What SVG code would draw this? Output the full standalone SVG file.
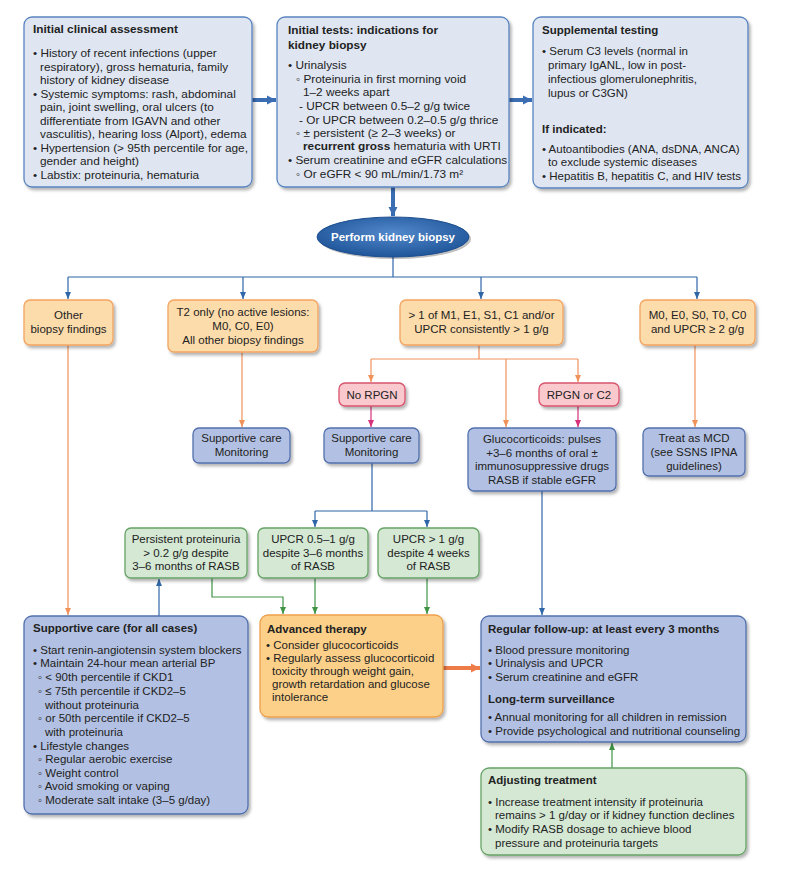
<svg xmlns="http://www.w3.org/2000/svg" width="787" height="876" viewBox="0 0 787 876">
<defs>
<style>
text{font-family:"Liberation Sans",Arial,sans-serif;font-size:11.5px;fill:#222}
.t text{font-size:11.8px}
.b{font-weight:bold}
.c{text-anchor:middle}
.w{fill:#fff;font-weight:bold;font-size:11.5px}
.top{fill:#dfe6f2;stroke:#5a84c0;stroke-width:1.3}
.blue{fill:#b2c1e3;stroke:#5270ad;stroke-width:1.3}
.org{fill:#fddcab;stroke:#f2a460;stroke-width:1.3}
.adv{fill:#fcd089;stroke:#eda04c;stroke-width:1.3}
.grn{fill:#d4e8d4;stroke:#66a366;stroke-width:1.3}
.pnk{fill:#f9c9cd;stroke:#d9546e;stroke-width:1.3}
.lb{fill:none;stroke:#2f66a8;stroke-width:1.2}
.lo{fill:none;stroke:#f0925a;stroke-width:1.2}
.lp{fill:none;stroke:#d6307a;stroke-width:1.2}
.lg{fill:none;stroke:#3f9345;stroke-width:1.2}
</style>
<filter id="sh" x="-10%" y="-10%" width="130%" height="130%">
<feDropShadow dx="2" dy="2.5" stdDeviation="1.6" flood-color="#000" flood-opacity="0.3"/>
</filter>
<radialGradient id="eg" cx="50%" cy="40%" r="60%">
<stop offset="0" stop-color="#5289cb"/>
<stop offset="1" stop-color="#1f5599"/>
</radialGradient>
<marker id="ab" markerWidth="8" markerHeight="8" refX="7" refY="4" orient="auto" markerUnits="userSpaceOnUse"><path d="M0,1 L7,4 L0,7 Z" fill="#2f66a8"/></marker>
<marker id="ao" markerWidth="8" markerHeight="8" refX="7" refY="4" orient="auto" markerUnits="userSpaceOnUse"><path d="M0,1 L7,4 L0,7 Z" fill="#f0925a"/></marker>
<marker id="ap" markerWidth="8" markerHeight="8" refX="7" refY="4" orient="auto" markerUnits="userSpaceOnUse"><path d="M0,1 L7,4 L0,7 Z" fill="#d6307a"/></marker>
<marker id="ag" markerWidth="8" markerHeight="8" refX="7" refY="4" orient="auto" markerUnits="userSpaceOnUse"><path d="M0,1 L7,4 L0,7 Z" fill="#3f9345"/></marker>
<marker id="abt" markerWidth="12" markerHeight="12" refX="9" refY="6" orient="auto" markerUnits="userSpaceOnUse"><path d="M0,1.5 L9,6 L0,10.5 Z" fill="#3a6db2"/></marker>
<marker id="aot" markerWidth="12" markerHeight="12" refX="9" refY="6" orient="auto" markerUnits="userSpaceOnUse"><path d="M0,1.5 L9,6 L0,10.5 Z" fill="#ee7c48"/></marker>
</defs>
<rect width="787" height="876" fill="#fff"/>

<g id="connectors">
<line x1="252" y1="100" x2="276" y2="100" stroke="#3a6db2" stroke-width="4" marker-end="url(#abt)"/>
<line x1="509" y1="100" x2="532" y2="100" stroke="#3a6db2" stroke-width="4" marker-end="url(#abt)"/>
<line x1="393" y1="187" x2="393" y2="216" stroke="#3a6db2" stroke-width="4" marker-end="url(#abt)"/>
<path class="lb" d="M393,257 V277 M68,277 H697"/>
<path class="lb" d="M68,277 V299" marker-end="url(#ab)"/>
<path class="lb" d="M243,277 V299" marker-end="url(#ab)"/>
<path class="lb" d="M481,277 V299" marker-end="url(#ab)"/>
<path class="lb" d="M697,277 V299" marker-end="url(#ab)"/>
<path class="lo" d="M68,345 V615" marker-end="url(#ao)"/>
<path class="lo" d="M242,352 V427" marker-end="url(#ao)"/>
<path class="lo" d="M479,345 V359 M371,359 H578"/>
<path class="lo" d="M371,359 V382" marker-end="url(#ao)"/>
<path class="lo" d="M506,359 V427" marker-end="url(#ao)"/>
<path class="lo" d="M578,359 V382" marker-end="url(#ao)"/>
<path class="lo" d="M695,345 V427" marker-end="url(#ao)"/>
<path class="lp" d="M371,406 V427" marker-end="url(#ap)"/>
<path class="lp" d="M578,406 V427" marker-end="url(#ap)"/>
<path class="lb" d="M372,463 V511 M315,511 H427"/>
<path class="lb" d="M315,511 V527" marker-end="url(#ab)"/>
<path class="lb" d="M427,511 V527" marker-end="url(#ab)"/>
<path class="lb" d="M542,491 V615" marker-end="url(#ab)"/>
<path class="lb" d="M159,616 V579" marker-end="url(#ab)"/>
<path class="lg" d="M212,578 V597 H283 V614" marker-end="url(#ag)"/>
<path class="lg" d="M315,578 V614" marker-end="url(#ag)"/>
<path class="lg" d="M427,578 V614" marker-end="url(#ag)"/>
<path class="lg" d="M612,768 V743" marker-end="url(#ag)"/>
<line x1="443" y1="668" x2="480" y2="668" stroke="#ee7c48" stroke-width="4" marker-end="url(#aot)"/>
</g>

<g id="initial-assessment" class="t">
<rect class="top" x="24" y="17" width="228" height="170" rx="8" filter="url(#sh)"/>
<text class="b" x="33" y="33">Initial clinical assessment</text>
<text x="33" y="57">• History of recent infections (upper</text>
<text x="40" y="70.5">respiratory), gross hematuria, family</text>
<text x="40" y="84">history of kidney disease</text>
<text x="33" y="97.5">• Systemic symptoms: rash, abdominal</text>
<text x="40" y="111">pain, joint swelling, oral ulcers (to</text>
<text x="40" y="124.5">differentiate from IGAVN and other</text>
<text x="40" y="138">vasculitis), hearing loss (Alport), edema</text>
<text x="33" y="151.5">• Hypertension (&gt; 95th percentile for age,</text>
<text x="40" y="165">gender and height)</text>
<text x="33" y="178.5">• Labstix: proteinuria, hematuria</text>
</g>

<g id="initial-tests" class="t">
<rect class="top" x="277" y="17" width="232" height="170" rx="8" filter="url(#sh)"/>
<text class="b" x="288" y="34">Initial tests: indications for</text>
<text class="b" x="288" y="48.5">kidney biopsy</text>
<text x="288" y="69">• Urinalysis</text>
<text x="296" y="82.5">◦ Proteinuria in first morning void</text>
<text x="303" y="96">1–2 weeks apart</text>
<text x="299" y="110">- UPCR between 0.5–2 g/g twice</text>
<text x="299" y="123.5">- Or UPCR between 0.2–0.5 g/g thrice</text>
<text x="296" y="137">◦ ± persistent (≥ 2–3 weeks) or</text>
<text x="303" y="150"><tspan class="b">recurrent gross</tspan> hematuria with URTI</text>
<text x="288" y="164">• Serum creatinine and eGFR calculations</text>
<text x="296" y="177.5">◦ Or eGFR &lt; 90 mL/min/1.73 m²</text>
</g>

<g id="supplemental">
<rect class="top" x="533" y="17" width="215" height="171" rx="8" filter="url(#sh)"/>
<text class="b" x="542" y="34">Supplemental testing</text>
<text x="542" y="55">• Serum C3 levels (normal in</text>
<text x="548" y="69">primary IgANL, low in post-</text>
<text x="548" y="83">infectious glomerulonephritis,</text>
<text x="548" y="97">lupus or C3GN)</text>
<text class="b" x="542" y="132.5">If indicated:</text>
<text x="542" y="152.5">• Autoantibodies (ANA, dsDNA, ANCA)</text>
<text x="548" y="166">to exclude systemic diseases</text>
<text x="542" y="179.5">• Hepatitis B, hepatitis C, and HIV tests</text>
</g>

<g id="biopsy">
<ellipse cx="395" cy="239" rx="76" ry="20" fill="#000" opacity="0.25"/>
<ellipse cx="393" cy="237" rx="76" ry="20" fill="url(#eg)" stroke="#1d4f90" stroke-width="1"/>
<text class="w c" x="393" y="241">Perform kidney biopsy</text>
</g>

<g id="other-findings">
<rect class="org" x="24" y="300" width="89" height="45" rx="6" filter="url(#sh)"/>
<text class="c" x="68.5" y="319">Other</text>
<text class="c" x="68.5" y="333">biopsy findings</text>
</g>
<g id="t2-only">
<rect class="org" x="168" y="300" width="150" height="52" rx="6" filter="url(#sh)"/>
<text class="c" x="243" y="316">T2 only (no active lesions:</text>
<text class="c" x="243" y="330">M0, C0, E0)</text>
<text class="c" x="243" y="344">All other biopsy findings</text>
</g>
<g id="active-lesions">
<rect class="org" x="400" y="300" width="163" height="45" rx="6" filter="url(#sh)"/>
<text class="c" x="481.5" y="319">&gt; 1 of M1, E1, S1, C1 and/or</text>
<text class="c" x="481.5" y="333">UPCR consistently &gt; 1 g/g</text>
</g>
<g id="m0-e0">
<rect class="org" x="640" y="300" width="115" height="45" rx="6" filter="url(#sh)"/>
<text class="c" x="697.5" y="319">M0, E0, S0, T0, C0</text>
<text class="c" x="697.5" y="333">and UPCR ≥ 2 g/g</text>
</g>

<g id="no-rpgn">
<rect class="pnk" x="339" y="383" width="66" height="23" rx="6" filter="url(#sh)"/>
<text class="c" x="372" y="398.5">No RPGN</text>
</g>
<g id="rpgn-c2">
<rect class="pnk" x="539" y="383" width="80" height="23" rx="6" filter="url(#sh)"/>
<text class="c" x="579" y="398.5">RPGN or C2</text>
</g>

<g id="supportive-1">
<rect class="blue" x="193" y="428" width="97" height="35" rx="6" filter="url(#sh)"/>
<text class="c" x="241.5" y="442">Supportive care</text>
<text class="c" x="241.5" y="456">Monitoring</text>
</g>
<g id="supportive-2">
<rect class="blue" x="324" y="428" width="95" height="35" rx="6" filter="url(#sh)"/>
<text class="c" x="371.5" y="442">Supportive care</text>
<text class="c" x="371.5" y="456">Monitoring</text>
</g>
<g id="glucocorticoids">
<rect class="blue" x="468" y="428" width="148" height="63" rx="6" filter="url(#sh)"/>
<text class="c" x="542" y="443">Glucocorticoids: pulses</text>
<text class="c" x="542" y="456.5">+3–6 months of oral ±</text>
<text class="c" x="542" y="470">immunosuppressive drugs</text>
<text class="c" x="542" y="483.5">RASB if stable eGFR</text>
</g>
<g id="treat-mcd">
<rect class="blue" x="643" y="428" width="102" height="48" rx="6" filter="url(#sh)"/>
<text class="c" x="694" y="442">Treat as MCD</text>
<text class="c" x="694" y="456">(see SSNS IPNA</text>
<text class="c" x="694" y="470">guidelines)</text>
</g>

<g id="persistent">
<rect class="grn" x="125" y="528" width="122" height="50" rx="6" filter="url(#sh)"/>
<text class="c" x="186" y="543">Persistent proteinuria</text>
<text class="c" x="186" y="557">&gt; 0.2 g/g despite</text>
<text class="c" x="186" y="570">3–6 months of RASB</text>
</g>
<g id="upcr-05-1">
<rect class="grn" x="258" y="528" width="110" height="50" rx="6" filter="url(#sh)"/>
<text class="c" x="313" y="543">UPCR 0.5–1 g/g</text>
<text class="c" x="313" y="557">despite 3–6 months</text>
<text class="c" x="313" y="570">of RASB</text>
</g>
<g id="upcr-gt1">
<rect class="grn" x="378" y="528" width="101" height="50" rx="6" filter="url(#sh)"/>
<text class="c" x="428.5" y="543">UPCR &gt; 1 g/g</text>
<text class="c" x="428.5" y="557">despite 4 weeks</text>
<text class="c" x="428.5" y="570">of RASB</text>
</g>

<g id="supportive-all">
<rect class="blue" x="24" y="616" width="224" height="198" rx="8" filter="url(#sh)"/>
<text class="b" x="33" y="632">Supportive care (for all cases)</text>
<text x="33" y="654">• Start renin-angiotensin system blockers</text>
<text x="33" y="667">• Maintain 24-hour mean arterial BP</text>
<text x="38" y="681">◦ &lt; 90th percentile if CKD1</text>
<text x="38" y="695">◦ ≤ 75th percentile if CKD2–5</text>
<text x="45" y="708.5">without proteinuria</text>
<text x="38" y="722">◦ or 50th percentile if CKD2–5</text>
<text x="45" y="736">with proteinuria</text>
<text x="33" y="749.5">• Lifestyle changes</text>
<text x="38" y="763">◦ Regular aerobic exercise</text>
<text x="38" y="777">◦ Weight control</text>
<text x="38" y="790">◦ Avoid smoking or vaping</text>
<text x="38" y="803.5">◦ Moderate salt intake (3–5 g/day)</text>
</g>

<g id="advanced-therapy">
<rect class="adv" x="260" y="615" width="183" height="102" rx="8" filter="url(#sh)"/>
<text class="b" x="267" y="633">Advanced therapy</text>
<text x="266" y="649">• Consider glucocorticoids</text>
<text x="266" y="662">• Regularly assess glucocorticoid</text>
<text x="272" y="675">toxicity through weight gain,</text>
<text x="272" y="688">growth retardation and glucose</text>
<text x="272" y="701">intolerance</text>
</g>

<g id="follow-up">
<rect class="blue" x="481" y="616" width="265" height="126" rx="8" filter="url(#sh)"/>
<text class="b" x="488" y="633">Regular follow-up: at least every 3 months</text>
<text x="488" y="653.5">• Blood pressure monitoring</text>
<text x="488" y="667">• Urinalysis and UPCR</text>
<text x="488" y="681">• Serum creatinine and eGFR</text>
<text class="b" x="488" y="703">Long-term surveillance</text>
<text x="488" y="721">• Annual monitoring for all children in remission</text>
<text x="488" y="734.5">• Provide psychological and nutritional counseling</text>
</g>

<g id="adjusting">
<rect class="grn" x="481" y="768" width="265" height="87" rx="8" filter="url(#sh)"/>
<text class="b" x="488" y="784">Adjusting treatment</text>
<text x="488" y="806">• Increase treatment intensity if proteinuria</text>
<text x="495" y="819">remains &gt; 1 g/day or if kidney function declines</text>
<text x="488" y="832.5">• Modify RASB dosage to achieve blood</text>
<text x="495" y="846.5">pressure and proteinuria targets</text>
</g>
</svg>
